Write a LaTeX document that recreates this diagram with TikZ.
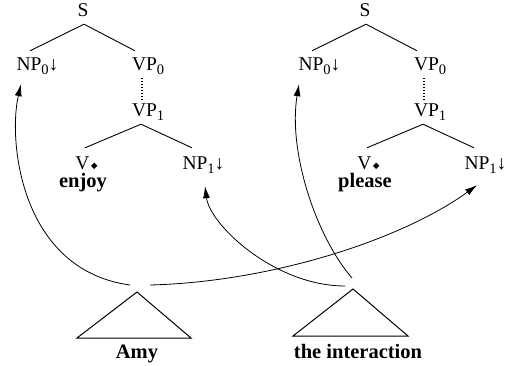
\documentclass[tikz,border=0pt]{standalone}
\usepackage{fontspec}
\usepackage{graphicx}
\setmainfont{Liberation Serif}
\usetikzlibrary{arrows.meta}

% lowered, smaller index after a category label
\newcommand\mysub[1]{\raisebox{-3.5pt}{\fontsize{14.5}{15}\selectfont #1}}
% small filled diamond marking the anchor
\newcommand\anchormark{\kern1.5pt\raisebox{1pt}{\rotatebox{45}{\rule{4.5pt}{4.5pt}}}}
% substitution-node arrow
\newcommand\subst{↓}

\tikzset{
  cat/.style={anchor=base, inner xsep=0pt, inner ysep=7pt, text height=13pt,
              text depth=0pt, font=\fontsize{19.5}{22}\selectfont},
  leafcat/.style={cat, inner ysep=0pt},
  word/.style={anchor=base, inner sep=0pt, font=\fontsize{20.5}{23}\selectfont\bfseries},
  branch/.style={line width=0.9pt},
  spine/.style={line width=1.1pt, dash pattern=on 1.2pt off 1.8pt},
  subtree/.style={line width=1pt, line join=miter},
  attach/.style={line width=0.8pt, -{Latex[length=12pt,width=7pt]}}
}

\begin{document}
\begin{tikzpicture}[x=1pt,y=-1pt]
\useasboundingbox (0,0) rectangle (514,366);

% ---- elementary tree for "enjoy"
\node[cat] (sL)   at (83,17)    {S};
\node[cat] (np0L) at (29,71)    {NP\rlap{\mysub{0}\subst}};
\node[cat] (vp0L) at (144.5,71) {VP\rlap{\mysub{0}}};
\node[cat] (vp1L) at (144.5,117){VP\rlap{\mysub{1}}};
\node[leafcat] (vL)   at (82.5,170) {V\rlap{\anchormark}};
\node[cat] (np1L) at (195,170)  {NP\rlap{\mysub{1}\subst}};
\node[word] (enjoy) at (83,188) {enjoy};

\draw[branch] ([xshift=1pt]sL.south) -- ([xshift=1pt]np0L.north);
\draw[branch] ([xshift=1pt]sL.south) -- ([xshift=-9.5pt]vp0L.north);
\draw[spine]  ([xshift=-2.5pt]vp0L.south) -- ([xshift=-2.5pt,yshift=-3pt]vp1L.north);
\draw[branch] ([xshift=-3.5pt]vp1L.south) -- ([xshift=2.5pt,yshift=9pt]vL.north);
\draw[branch] ([xshift=-3.5pt]vp1L.south) -- ([xshift=-3pt,yshift=2pt]np1L.north);

% ---- elementary tree for "please"
\node[cat] (sR)   at (365,17)   {S};
\node[cat] (np0R) at (311,71)   {NP\rlap{\mysub{0}\subst}};
\node[cat] (vp0R) at (426.5,71) {VP\rlap{\mysub{0}}};
\node[cat] (vp1R) at (426.5,117){VP\rlap{\mysub{1}}};
\node[leafcat] (vR)   at (364.5,170){V\rlap{\anchormark}};
\node[cat] (np1R) at (477,170)  {NP\rlap{\mysub{1}\subst}};
\node[word] (please) at (365,188) {please};

\draw[branch] ([xshift=1pt]sR.south) -- ([xshift=1pt]np0R.north);
\draw[branch] ([xshift=1pt]sR.south) -- ([xshift=-9.5pt]vp0R.north);
\draw[spine]  ([xshift=-2.5pt]vp0R.south) -- ([xshift=-2.5pt,yshift=-3pt]vp1R.north);
\draw[branch] ([xshift=-3.5pt]vp1R.south) -- ([xshift=2.5pt,yshift=9pt]vR.north);
\draw[branch] ([xshift=-3.5pt]vp1R.south) -- ([xshift=-3pt,yshift=2pt]np1R.north);

% ---- argument subtrees
\coordinate (amyTop) at (137,292);
\draw[subtree] (amyTop) -- (77,338) -- (191,338) -- cycle;
\node[word] (amy) at (137,358) {Amy};

\coordinate (intTop) at (353,289);
\draw[subtree] (intTop) -- (293,336) -- (408,336) -- cycle;
\node[word] (inter) at (358,358) {the interaction};

% ---- substitution links
\coordinate (amyL) at (130,285);
\coordinate (amyR) at (150,285);
\coordinate (intL) at (345,286);
\coordinate (intU) at (352,278);

\draw[attach] (amyL) .. controls +(-110,-15) and +(-13,56) .. ([xshift=-8pt,yshift=-6pt]np0L.south);
\draw[attach] (amyR) .. controls +(120,-3) and +(-76,55) .. ([yshift=-8pt]np1R.south);
\draw[attach] (intL) .. controls +(-70,0) and +(5,39) .. ([xshift=10pt,yshift=-9pt]np1L.south);
\draw[attach] (intU) .. controls +(-37,-43) and +(-11,66) .. ([xshift=-12pt,yshift=-6pt]np0R.south);
\end{tikzpicture}
\end{document}
